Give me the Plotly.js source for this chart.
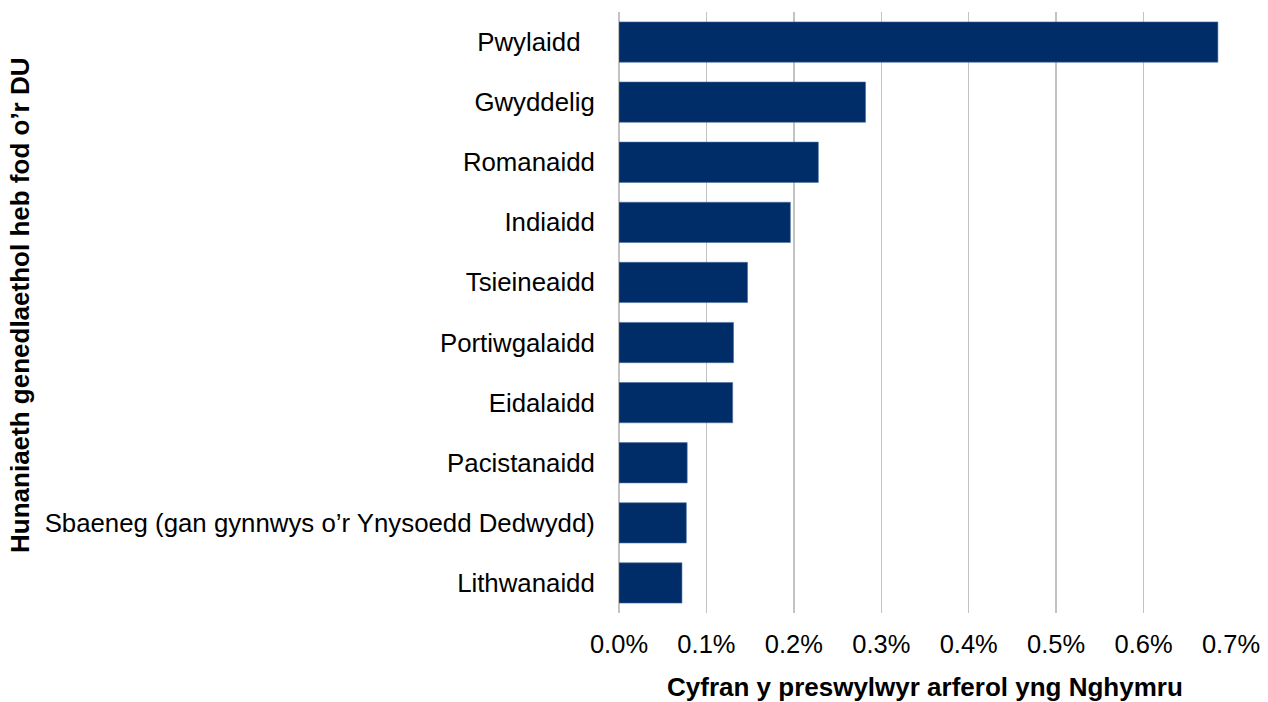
<!DOCTYPE html>
<html>
<head>
<meta charset="utf-8">
<script src="https://cdn.plot.ly/plotly-3.0.1.min.js"></script>
<style>html,body{margin:0;padding:0;background:#fff;}#chart{width:1268px;height:702px;}</style>
</head>
<body>
<div id="chart"></div>
<script>
const categories = [
  "Pwylaidd\u00a0\u00a0",
  "Gwyddelig",
  "Romanaidd",
  "Indiaidd",
  "Tsieineaidd",
  "Portiwgalaidd",
  "Eidalaidd",
  "Pacistanaidd",
  "Sbaeneg (gan gynnwys o\u2019r Ynysoedd Dedwydd)",
  "Lithwanaidd"
];
const shares = [0.00685, 0.00282, 0.00228, 0.00196, 0.00147, 0.00131, 0.00130, 0.00078, 0.00077, 0.00072];
const tickValues = [0, 0.001, 0.002, 0.003, 0.004, 0.005, 0.006, 0.007];
const tickLabels = ["0.0%", "0.1%", "0.2%", "0.3%", "0.4%", "0.5%", "0.6%", "0.7%"];
const xTitle = "Cyfran y preswylwyr arferol yng Nghymru";
const yTitle = "Hunaniaeth genedlaethol heb fod o\u2019r DU";

const font = "Liberation Sans, Arial, sans-serif";
const trace = {
  type: "bar",
  orientation: "h",
  x: shares,
  y: categories,
  marker: {color: "#002d67", line: {color: "#4a6fa0", width: 0.6}},
  hoverinfo: "x+y"
};
const layout = {
  width: 1268, height: 702,
  margin: {l: 619, r: 37, t: 12, b: 89},
  paper_bgcolor: "#fff", plot_bgcolor: "#fff",
  font: {family: font, size: 25.8, color: "#000"},
  bargap: 0.33,
  showlegend: false,
  xaxis: {
    range: [0, 0.007],
    tickvals: tickValues,
    ticktext: tickLabels,
    showgrid: true, gridcolor: "#c3c3c3", gridwidth: 1.3,
    zeroline: true, zerolinecolor: "#c3c3c3", zerolinewidth: 1.3,
    showline: false,
    ticks: "outside", ticklen: 8, tickcolor: "rgba(0,0,0,0)",
    tickfont: {family: font, size: 25.5, color: "#000"},
    automargin: false
  },
  yaxis: {
    type: "category",
    autorange: "reversed",
    showgrid: false, zeroline: false, showline: false,
    ticks: "outside", ticklen: 18, tickcolor: "rgba(0,0,0,0)",
    tickfont: {family: font, size: 25.8, color: "#000"},
    automargin: false
  },
  annotations: [
    {text: "<b>" + xTitle + "</b>", xref: "paper", yref: "paper", x: 0.5, y: -0.1235,
     xanchor: "center", yanchor: "middle", showarrow: false, font: {family: font, size: 26, color: "#000"}},
    {text: "<b>" + yTitle + "</b>", xref: "paper", yref: "paper", x: -0.9788, y: 0.5125,
     xanchor: "center", yanchor: "middle", textangle: -90, showarrow: false, font: {family: font, size: 26, color: "#000"}}
  ]
};
Plotly.newPlot("chart", [trace], layout, {displayModeBar: false, staticPlot: true});
</script>
</body>
</html>
